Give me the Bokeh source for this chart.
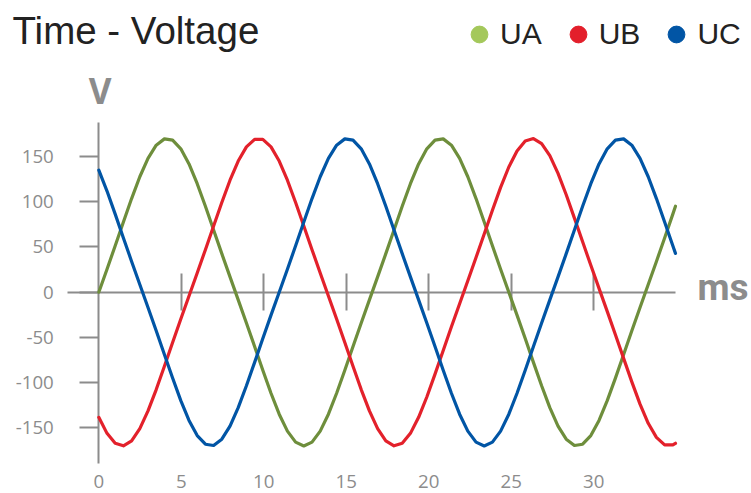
from bokeh.plotting import figure
from bokeh.models import Range1d, LinearAxis, FixedTicker, Label, Legend, LegendItem
from bokeh.embed import file_html
from bokeh.resources import INLINE

title_text = "Time - Voltage"
y_unit = "V"
x_unit = "ms"
series_names = ["UA", "UB", "UC"]

# time (ms)
t_ms = [0.0, 0.497, 0.994, 1.491, 1.988, 2.485, 2.982, 3.479, 3.976, 4.473,
        4.97, 5.467, 5.964, 6.461, 6.958, 7.455, 7.952, 8.449, 8.946, 9.443,
        9.94, 10.437, 10.934, 11.431, 11.928, 12.425, 12.922, 13.419, 13.916, 14.413,
        14.91, 15.407, 15.904, 16.401, 16.898, 17.395, 17.892, 18.389, 18.886, 19.383,
        19.88, 20.377, 20.874, 21.371, 21.868, 22.365, 22.862, 23.359, 23.856, 24.353,
        24.85, 25.347, 25.844, 26.341, 26.838, 27.335, 27.832, 28.329, 28.826, 29.323,
        29.82, 30.317, 30.814, 31.311, 31.808, 32.305, 32.802, 33.299, 33.796, 34.293,
        34.79, 34.95]

ua = [0, 25.4, 51.3, 77.6, 103.5, 127.6, 148.0, 162.5, 169.5,
      168.1, 158.5, 141.8, 119.9, 95.0, 68.8, 42.6, 16.9,
      -8.5, -34.0, -60.0, -86.3, -111.8, -134.9, -153.6, -165.8,
      -170.0,
      -165.8, -153.6, -134.9, -111.8, -86.3, -60.0, -34.0, -8.5,
      16.9, 42.6, 68.8, 95.0, 119.9, 141.8, 158.5, 168.1,
      169.5, 162.5, 148.0, 127.6, 103.5, 77.6, 51.3, 25.4,
      0,
      -25.4, -51.3, -77.6, -103.5, -127.6, -148.0, -162.5, -169.5,
      -168.1, -158.5, -141.8, -119.9, -95.0, -68.8, -42.6, -16.9,
      8.5, 34.0, 60.0, 86.3, 95.0]

ub = [-138.4, -156.1, -167.1, -169.9, -164.3, -150.9, -131.3, -107.7, -81.9, -55.7, -29.7, -4.2,
      21.2, 47.0, 73.2, 99.2, 123.8, 145.0, 160.6, 168.9,
      168.9, 160.6, 145.0, 123.8, 99.2, 73.2, 47.0, 21.2,
      -4.2, -29.7, -55.7, -81.9, -107.7, -131.3, -150.9, -164.3, -169.9,
      -167.1, -156.1, -138.4, -115.9, -90.6, -64.4, -38.3, -12.7,
      12.7, 38.3, 64.4, 90.6, 115.9, 138.4, 156.1, 167.1,
      169.9, 164.3, 150.9, 131.3, 107.7, 81.9, 55.7, 29.7, 4.2,
      -21.2, -47.0, -73.2, -99.2, -123.8, -145.0, -160.6, -168.9, -168.9, -167.1]

uc = [134.9, 111.8, 86.3, 60.0, 34.0, 8.5,
      -16.9, -42.6, -68.8, -95.0, -119.9, -141.8, -158.5, -168.1, -169.5, -162.5, -148.0, -127.6, -103.5, -77.6, -51.3, -25.4,
      0,
      25.4, 51.3, 77.6, 103.5, 127.6, 148.0, 162.5, 169.5,
      168.1, 158.5, 141.8, 119.9, 95.0, 68.8, 42.6, 16.9,
      -8.5, -34.0, -60.0, -86.3, -111.8, -134.9, -153.6, -165.8,
      -170.0,
      -165.8, -153.6, -134.9, -111.8, -86.3, -60.0, -34.0, -8.5,
      16.9, 42.6, 68.8, 95.0, 119.9, 141.8, 158.5, 168.1,
      169.5, 162.5, 148.0, 127.6, 103.5, 77.6, 51.3, 42.9]

x_ticks = [0, 5, 10, 15, 20, 25, 30]
y_ticks = [-150, -100, -50, 0, 50, 100, 150]

line_colors = ["#6e8e3c", "#e3212b", "#0155a5"]
dot_colors = ["#a4c85b", "#e31f2b", "#0155a5"]
gray = "#8c8c8c"
dark = "#222222"

W, H = 751, 493
x_lo, x_hi = -5.958, 39.558          # whole canvas
y_lo, y_hi = -222.6, 322.5
x_axis_bounds = (-1.897, 34.95)
y_axis_bounds = (-189.4, 187.6)

p = figure(width=W, height=H, output_backend="svg", toolbar_location=None,
           x_range=Range1d(x_lo, x_hi), y_range=Range1d(y_lo, y_hi),
           x_axis_location=None, y_axis_location=None,
           min_border_left=0, min_border_right=0, min_border_top=0, min_border_bottom=0)
p.outline_line_color = None
p.background_fill_color = "white"
p.border_fill_color = "white"
for g in p.grid:
    g.visible = False

tick_font = "Open Sans"
tick_size = "18.7px"

yax = LinearAxis(fixed_location=0, ticker=FixedTicker(ticks=y_ticks), bounds=y_axis_bounds,
                 axis_line_color=gray, axis_line_width=2,
                 major_tick_line_color=gray, major_tick_line_width=2,
                 major_tick_in=0, major_tick_out=19, minor_tick_line_color=None,
                 major_label_standoff=26, major_label_text_font=tick_font,
                 major_label_text_font_size=tick_size, major_label_text_color=gray,
                 major_label_overrides={v: str(v) for v in y_ticks},
                 level="underlay")
p.add_layout(yax, "left")

zax = LinearAxis(fixed_location=0, ticker=FixedTicker(ticks=x_ticks[1:]), bounds=x_axis_bounds,
                 axis_line_color=gray, axis_line_width=2,
                 major_tick_line_color=gray, major_tick_line_width=2,
                 major_tick_in=19, major_tick_out=18, minor_tick_line_color=None,
                 major_label_overrides={v: "" for v in x_ticks[1:]},
                 level="underlay")
p.add_layout(zax, "below")

lax = LinearAxis(fixed_location=y_axis_bounds[0], ticker=FixedTicker(ticks=x_ticks),
                 axis_line_color=None, major_tick_line_color=None, minor_tick_line_color=None,
                 major_tick_in=0, major_tick_out=0,
                 major_label_standoff=12, major_label_text_font=tick_font,
                 major_label_text_font_size=tick_size, major_label_text_color=gray,
                 major_label_overrides={v: str(v) for v in x_ticks})
p.add_layout(lax, "below")

for vals, col in zip([ua, ub, uc], line_colors):
    p.line(t_ms, vals, line_color=col, line_width=3.2, line_join="round", line_cap="round")

nan = float("nan")
items = []
for col, name in zip(dot_colors, series_names):
    r = p.scatter(x=[nan], y=[nan], marker="circle", size=16, fill_color=col, line_color=col)
    items.append(LegendItem(label=name, renderers=[r]))
legend = Legend(items=items, orientation="horizontal", location=(458, 437.7),
                glyph_width=42, glyph_height=42, label_standoff=0, spacing=15,
                padding=0, margin=0, border_line_color=None, background_fill_alpha=0,
                label_text_font="Liberation Sans", label_text_font_size="30px",
                label_text_color=dark)
p.add_layout(legend, "center")

p.add_layout(Label(x=12, y=463.3, x_units="screen", y_units="screen", text=title_text,
                   text_font="Liberation Sans", text_font_size="38.5px", text_color=dark,
                   text_baseline="alphabetic"))
p.add_layout(Label(x=88.3, y=403.3, x_units="screen", y_units="screen", text=y_unit,
                   text_font="Open Sans", text_font_style="bold", text_font_size="35px",
                   text_color=gray, text_baseline="alphabetic"))
p.add_layout(Label(x=697, y=206, x_units="screen", y_units="screen", text=x_unit,
                   text_font="Roboto", text_font_style="bold", text_font_size="37px",
                   text_color=gray, text_baseline="alphabetic"))

open("out.html", "w").write(file_html(p, INLINE))
